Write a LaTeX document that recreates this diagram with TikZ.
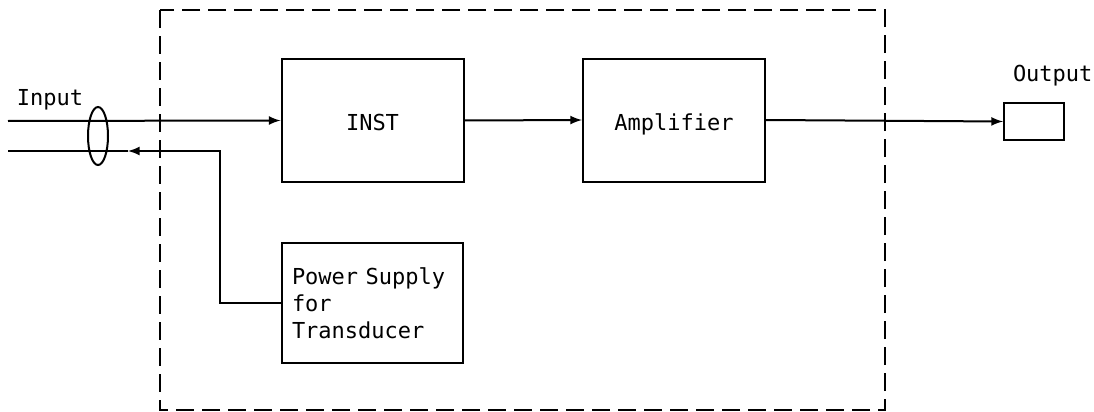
\documentclass[tikz,border=0pt]{standalone}
\usepackage{fontspec}
\setmonofont{DejaVu Sans Mono}
\usepackage{tikz}
\usetikzlibrary{arrows, shapes.geometric}

\begin{document}
\begin{tikzpicture}[x=0.5pt, y=-0.5pt,
				>=latex,   %Voreinstellung für Pfeilspitzen
				line width=1pt,
				font=\ttfamily\fontsize{11}{13.5}\selectfont,
				block/.style={draw, minimum width=91pt, minimum height=61.5pt, inner sep=0pt, text height=10pt, text depth=0pt},
				rahmen/.style={dash pattern=on 9pt off 4pt}]
				\useasboundingbox (0,0) rectangle (1094,412);
				%Gestrichelter Rahmen
				\draw[rahmen] (160,10) rectangle (885,410);
				%Bloecke
				\node[block] (inst) at (372.5,120.5) {INST};
				\node[block] (amp) at (674,120) {Amplifier};
				\node[draw, minimum height=60pt, inner ysep=0pt, text width=80.5pt, inner xsep=5pt, align=left] (ps) at (372.5,303)
					{Power Supply\\for\\Transducer};
				\node[draw, minimum width=30pt, minimum height=18.5pt, inner sep=0pt] (out) at (1034,121.5) {};
				%Kabel
				\node[draw, ellipse, minimum width=10pt, minimum height=29pt, inner sep=0pt] (kabel) at (98,136) {};
				% Hilfspunkte
				\coordinate (ein) at (8,121);
				\coordinate (rueck) at (8,151);
				\coordinate (knick) at (220,151);
				\coordinate (spitze) at (128,151);
				% Verbindungen
				\draw[->] (ein) -- (inst.west);
				\draw[->] (inst.east) -- (amp.west);
				\draw[->] (amp.east) -- (out.west);
				\draw[->] (ps.west) -| (knick) -- (spitze);
				\draw (spitze) -- (rueck);
				%Beschriftung
				\node[anchor=base west, inner sep=0pt] (input) at (16,105) {Input};
				\node[anchor=base west, inner sep=0pt] (output) at (1012,82) {Output};
			\end{tikzpicture}
\end{document}
